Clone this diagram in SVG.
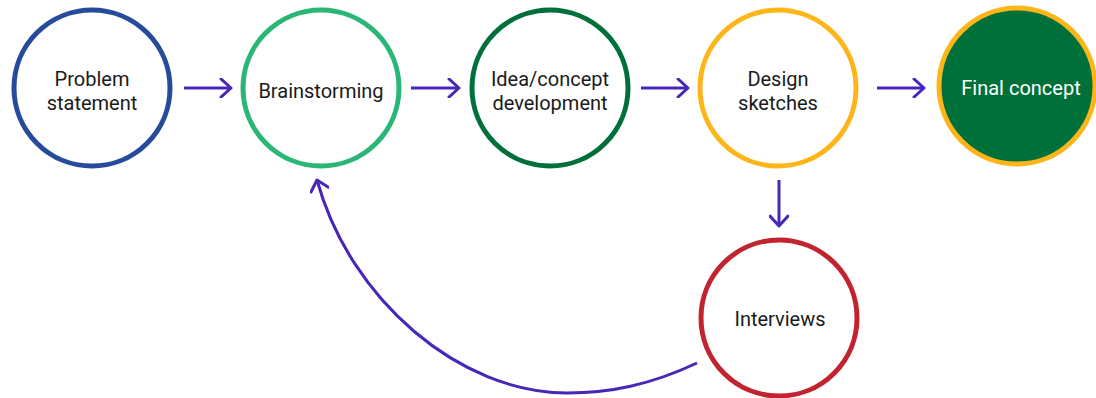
<svg xmlns="http://www.w3.org/2000/svg" width="1096" height="398" viewBox="0 0 1096 398">
  <defs>
    <marker id="arrow" viewBox="0 0 14 20" refX="12" refY="10" markerWidth="14" markerHeight="20" markerUnits="userSpaceOnUse" orient="auto">
      <path d="M2,1 L12,10 L2,19" fill="none" stroke="#4726b8" stroke-width="3" stroke-linecap="round" stroke-linejoin="round"/>
    </marker>
    <style>
      .node { fill: #ffffff; stroke-width: 5; }
      .label { font-family: Roboto, "Liberation Sans", sans-serif; font-size: 20px; fill: #1a1a1a; text-anchor: middle; }
      .edge { fill: none; stroke: #4726b8; stroke-width: 3; marker-end: url(#arrow); }
    </style>
  </defs>
  <rect width="1096" height="398" fill="#ffffff"/>

  <g id="connectors">
    <path class="edge" d="M184,88 H231"/>
    <path class="edge" d="M411,88 H459"/>
    <path class="edge" d="M641,88 H688"/>
    <path class="edge" d="M877,88 H924"/>
    <path class="edge" d="M779,180 V226"/>
    <path class="edge" d="M697,363 C650,385 610,393 567,393 C460,393 350,300 317,180"/>
  </g>

  <g id="problem-statement">
    <circle class="node" cx="92" cy="88" r="78" stroke="#274b9c"/>
    <text class="label" x="92" y="86">Problem</text>
    <text class="label" x="92" y="110">statement</text>
  </g>

  <g id="brainstorming">
    <circle class="node" cx="321" cy="88" r="78" stroke="#2ab674"/>
    <text class="label" x="321" y="98">Brainstorming</text>
  </g>

  <g id="idea-concept-development">
    <circle class="node" cx="550" cy="88" r="78" stroke="#00703b"/>
    <text class="label" x="550" y="86">Idea/concept</text>
    <text class="label" x="550" y="110">development</text>
  </g>

  <g id="design-sketches">
    <circle class="node" cx="778" cy="88" r="78" stroke="#fdb51a"/>
    <text class="label" x="778" y="86">Design</text>
    <text class="label" x="778" y="110">sketches</text>
  </g>

  <g id="final-concept">
    <circle cx="1017" cy="86" r="78" fill="#00703b" stroke="#fdb51a" stroke-width="5"/>
    <text class="label" x="1021" y="95" style="fill:#ffffff">Final concept</text>
  </g>

  <g id="interviews">
    <circle class="node" cx="779" cy="318" r="78" stroke="#c1232f"/>
    <text class="label" x="780" y="326">Interviews</text>
  </g>
</svg>
